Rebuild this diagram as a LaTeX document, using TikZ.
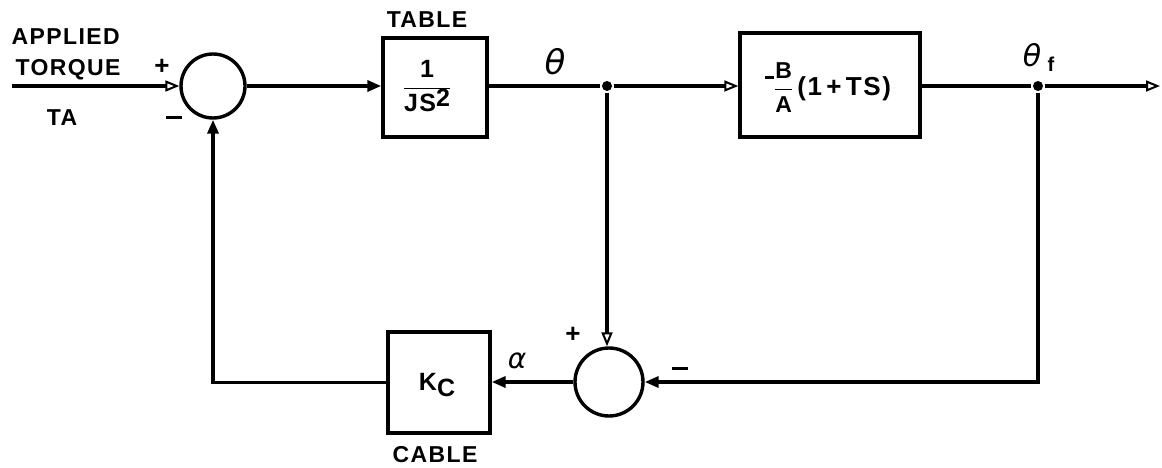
\documentclass[tikz,border=0pt]{standalone}
\usepackage{fontspec}
\setmainfont{Liberation Sans}[LetterSpace=6]
\newfontfamily\greekfont{DejaVu Sans}
\usetikzlibrary{arrows.meta}
\begin{document}
\begin{tikzpicture}[x=1pt,y=-1pt,line width=3.4pt,
  lbl/.style={font=\fontsize{23}{25}\selectfont\bfseries, inner sep=0pt},
  sgn/.style={font=\fontsize{26}{28}\selectfont\bfseries, inner sep=0pt},
  blk/.style={draw, line width=3.4pt, inner sep=0pt},
  sumc/.style={draw, circle, line width=3.4pt, inner sep=0pt, minimum size=#1},
  jct/.style={circle, fill, inner sep=0pt, minimum size=10pt},
  opa/.style={-{Triangle[open,length=14pt,width=11pt,line width=2pt]}},
  fla/.style={-{Triangle[length=14pt,width=11pt]}}]
\useasboundingbox (0,0) rectangle (1162,468);
% nodes
\node[sumc=64pt] (s1) at (213,86) {};
\node[blk, minimum width=104pt, minimum height=99pt] (tb) at (435,87.5) {};
\node[lbl, font=\fontsize{25}{27}\selectfont\bfseries] (tbf) at (427,86) {$\displaystyle\frac{\mbox{1}}{\mbox{JS\raisebox{5pt}{2}}}$};
\node[lbl] (tbl) at (427,20) {TABLE};
\node[jct] (j1) at (607,86) {};
\node[blk, minimum width=180pt, minimum height=104pt] (b2) at (830,85) {};
\node[lbl, font=\fontsize{26}{28}\selectfont\bfseries] (b2t) at (828,88) {\raisebox{17pt}{\rule{9pt}{2.5pt}}{\fontsize{23}{25}\selectfont$\displaystyle\frac{\mbox{B}}{\mbox{A}}$}\,(1\,+\,TS)};
\node[jct] (j2) at (1038,86) {};
\coordinate (out) at (1160,86);
\coordinate (in) at (12,86);
\node[sumc=68pt] (s2) at (609,382) {};
\node[blk, minimum width=102pt, minimum height=101pt] (kc) at (439,382.5) {};
\node[lbl, font=\fontsize{25}{27}\selectfont\bfseries] (kct) at (437,385) {K\raisebox{-6pt}{C}};
\node[lbl] (cab) at (435,455) {CABLE};
% labels
\node[lbl, anchor=west] (ap) at (10,37) {APPLIED};
\node[lbl, anchor=west] (tq) at (14,70) {TORQUE};
\node[lbl] (ta) at (62,118) {TA};
\node[sgn] (p1) at (162,67) {+};
\node[sgn] (m1) at (174,118) {\rule{16pt}{3pt}};
\node[sgn] (p2) at (573,335) {+};
\node[sgn] (m2) at (680,368) {\rule{16pt}{3pt}};
\node[inner sep=0pt, font=\fontsize{34}{36}\selectfont\greekfont\itshape] (th) at (555,62) {θ};
\node[inner sep=0pt, font=\fontsize{30}{32}\selectfont\greekfont\itshape] (thf) at (1032,55) {θ};
\node[lbl, font=\fontsize{20}{22}\selectfont\bfseries] (thfs) at (1051,64) {f};
\node[inner sep=0pt, font=\fontsize{28}{30}\selectfont\greekfont\itshape] (al) at (517,361) {α};
% connectors
\draw[opa] (in) -- (s1.west);
\draw[fla] (s1.east) -- (s1.east -| tb.west);
\draw (tb.east |- j1) -- (j1);
\draw[opa] (j1) -- (j1 -| b2.west);
\draw (b2.east |- j2) -- (j2);
\draw[opa] (j2) -- (out);
\draw[opa] (j1) -- (j1 |- s2.north);
\draw[fla] (j2) |- (s2.east);
\draw[fla] (s2.west) -- (s2.west -| kc.east);
\draw[fla] (kc.west) -| (s1.south);
\end{tikzpicture}
\end{document}
